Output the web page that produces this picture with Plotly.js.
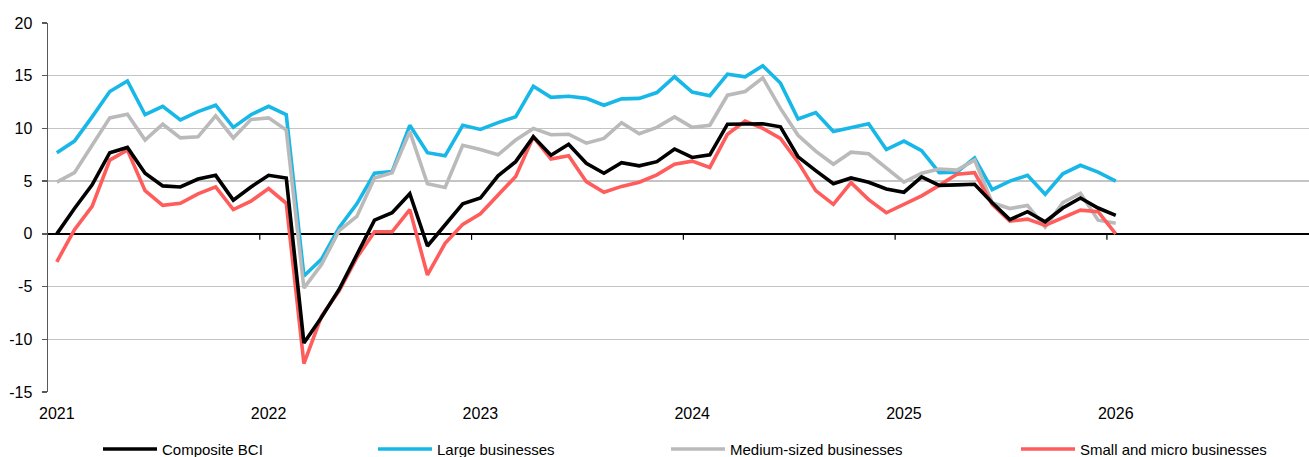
<!DOCTYPE html>
<html>
<head>
<meta charset="utf-8">
<script src="https://cdn.plot.ly/plotly-3.0.1.min.js"></script>
<style>
html,body{margin:0;padding:0;background:#fff;}
#chart{width:1309px;height:457px;}
</style>
</head>
<body>
<div id="chart"></div>
<script>
var months = [
 '2021-01','2021-02','2021-03','2021-04','2021-05','2021-06','2021-07','2021-08','2021-09','2021-10','2021-11','2021-12',
 '2022-01','2022-02','2022-03','2022-04','2022-05','2022-06','2022-07','2022-08','2022-09','2022-10','2022-11','2022-12',
 '2023-01','2023-02','2023-03','2023-04','2023-05','2023-06','2023-07','2023-08','2023-09','2023-10','2023-11','2023-12',
 '2024-01','2024-02','2024-03','2024-04','2024-05','2024-06','2024-07','2024-08','2024-09','2024-10','2024-11','2024-12',
 '2025-01','2025-02','2025-03','2025-04','2025-05','2025-06','2025-07','2025-08','2025-09','2025-10','2025-11','2025-12',
 '2026-01'
];

var composite = [
 0, 2.4, 4.65, 7.7, 8.2, 5.75, 4.55, 4.45, 5.2, 5.55, 3.2, 4.45,
 5.55, 5.3, -10.35, -7.9, -5.25, -1.95, 1.3, 2.0, 3.8, -1.15, 0.8, 2.85,
 3.4, 5.5, 6.85, 9.2, 7.45, 8.5, 6.7, 5.75, 6.75, 6.45, 6.85, 8.05,
 7.25, 7.5, 10.4, 10.4, 10.45, 10.15, 7.3, 6.0, 4.75, 5.3, 4.9, 4.25,
 3.95, 5.4, 4.6, 4.65, 4.7, 2.95, 1.35, 2.1, 1.15, 2.45, 3.4, 2.45,
 1.75
];

var large = [
 7.7, 8.8, 11.1, 13.5, 14.5, 11.3, 12.1, 10.8, 11.6, 12.2, 10.1, 11.3,
 12.1, 11.3, -4.0, -2.4, 0.6, 2.85, 5.75, 5.9, 10.3, 7.7, 7.4, 10.3,
 9.9, 10.55, 11.1, 14.0, 12.95, 13.05, 12.85, 12.2, 12.8, 12.85, 13.4, 14.9,
 13.45, 13.1, 15.15, 14.9, 15.95, 14.3, 10.9, 11.5, 9.7, 10.05, 10.45, 8.0,
 8.8, 7.9, 5.8, 5.85, 7.2, 4.2, 5.0, 5.55, 3.75, 5.7, 6.5, 5.85,
 5.0
];

var medium = [
 4.9, 5.8, 8.4, 11.0, 11.35, 8.9, 10.4, 9.1, 9.2, 11.2, 9.1, 10.85,
 11.0, 9.85, -5.15, -2.9, 0.3, 1.65, 5.3, 5.8, 9.7, 4.75, 4.4, 8.4,
 8.0, 7.5, 8.9, 10.0, 9.4, 9.45, 8.6, 9.05, 10.55, 9.5, 10.1, 11.1,
 10.1, 10.3, 13.15, 13.5, 14.8, 11.9, 9.35, 7.85, 6.6, 7.75, 7.6, 6.25,
 4.9, 5.75, 6.15, 6.05, 7.0, 2.95, 2.4, 2.7, 0.65, 2.95, 3.85, 1.3,
 1.0
];

var small = [
 -2.65, 0.4, 2.6, 7.0, 7.95, 4.1, 2.7, 2.9, 3.8, 4.45, 2.3, 3.1,
 4.3, 2.9, -12.3, -7.8, -5.4, -2.25, 0.2, 0.2, 2.3, -3.9, -0.9, 0.9,
 1.9, 3.7, 5.45, 9.2, 7.1, 7.4, 4.95, 3.95, 4.5, 4.9, 5.6, 6.6,
 6.9, 6.3, 9.45, 10.7, 10.0, 9.05, 6.8, 4.1, 2.8, 4.85, 3.25, 2.0,
 2.8, 3.6, 4.6, 5.65, 5.8, 2.8, 1.2, 1.4, 0.8, 1.5, 2.25, 2.1,
 0.0
];

var yearCats = ['2021-01','2022-01','2023-01','2024-01','2025-01','2026-01'];
var yearLabels = ['2021','2022','2023','2024','2025','2026'];
var yTickVals = [-15, -10, -5, 0, 5, 10, 15, 20];
var yTickText = ['-15', '-10', '-5', '0', '5', '10', '15', '20'];

var seriesNames = ['Composite BCI','Large businesses','Medium-sized businesses','Small and micro businesses'];
var seriesColors = ['#000000','#17b7e8','#bababa','#ff5c5c'];
var seriesData = [composite, large, medium, small];
var legendIds = ['legend','legend2','legend3','legend4'];
var legendX = [103, 378, 671, 1021];

var FONT = 'Liberation Sans, Arial, sans-serif';
var PL = 48, PW = 1261;

var traces = seriesData.map(function(d, k){
  return {
    x: months, y: d, type: 'scatter', mode: 'lines', name: seriesNames[k],
    line: {color: seriesColors[k], width: 3.6},
    legend: legendIds[k], hoverinfo: 'skip'
  };
});
// draw black on top
traces = [traces[1], traces[2], traces[3], traces[0]];

// year boundary tick marks on the zero line (between Dec and Jan)
var shapes = yearCats.slice(1).map(function(c){
  var idx = months.indexOf(c) - 0.5;
  return {type:'line', xref:'x', yref:'y', ysizemode:'pixel', yanchor:0,
          x0: idx, x1: idx, y0: 0, y1: -6, line:{color:'#000', width:1.2}};
});

var layout = {
  width: 1309, height: 457,
  margin: {l: PL, r: 0, t: 23, b: 65, autoexpand: false},
  paper_bgcolor: '#fff', plot_bgcolor: '#fff',
  font: {family: FONT, size: 15, color: '#000'},
  showlegend: true,
  xaxis: {
    type: 'category', range: [-0.5, 70.95],
    tickmode: 'array', tickvals: yearCats, ticktext: yearLabels,
    ticks: '', showgrid: false, zeroline: false, showline: false,
    tickfont: {size: 16, family: FONT, color: '#000'}, ticklabelstandoff: 10,
    automargin: false, fixedrange: true
  },
  yaxis: {
    range: [-15, 20], tickmode: 'array', tickvals: yTickVals, ticktext: yTickText,
    showline: true, linecolor: '#595959', linewidth: 1.5,
    ticks: 'outside', ticklen: 5, tickwidth: 1.5, tickcolor: '#595959',
    showgrid: true, gridcolor: '#c4c4c4', gridwidth: 1.3,
    zeroline: true, zerolinecolor: '#000', zerolinewidth: 1.3,
    tickfont: {size: 16, family: FONT, color: '#000'}, ticklabelstandoff: 6,
    automargin: false, fixedrange: true
  },
  shapes: shapes
};

legendIds.forEach(function(id, k){
  layout[id] = {
    orientation: 'h', xanchor: 'left', yanchor: 'middle',
    x: (legendX[k] - 5 - PL) / PW, y: -0.155,
    font: {size: 15, family: FONT, color: '#000'},
    bgcolor: 'rgba(0,0,0,0)', borderwidth: 0, itemwidth: 54,
    itemclick: false, itemdoubleclick: false
  };
});

Plotly.newPlot('chart', traces, layout, {staticPlot: true, displayModeBar: false});
</script>
</body>
</html>
